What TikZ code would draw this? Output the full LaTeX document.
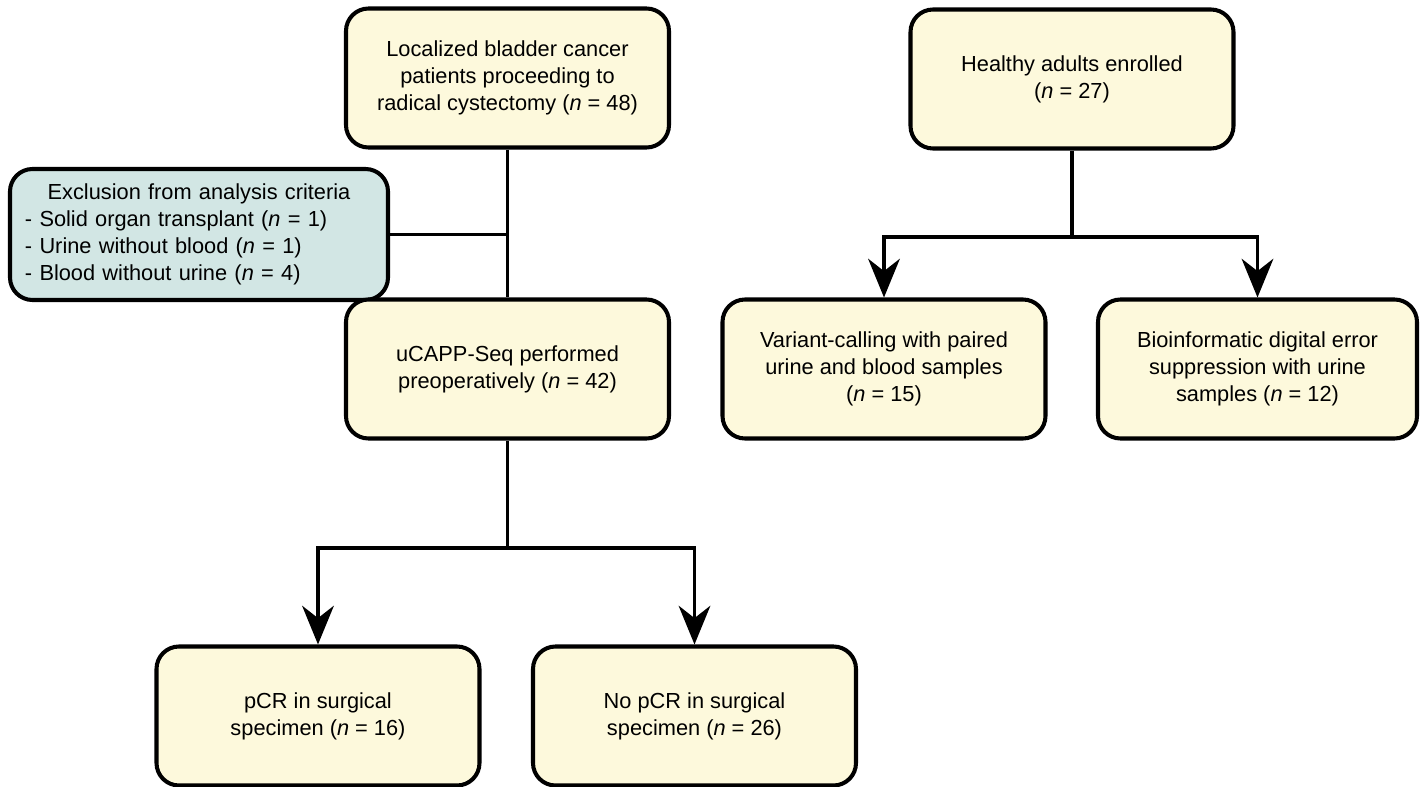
\documentclass[tikz,border=0pt]{standalone}
\usepackage{fontspec}
\setmainfont{Liberation Sans}
\usetikzlibrary{arrows.meta, positioning, calc}
\definecolor{boxcream}{RGB}{253, 249, 220}
\definecolor{boxteal}{RGB}{210, 230, 228}
\tikzset{
    % Study flow boxes
    flow box/.style={
        rectangle, rounded corners=0.45cm, draw=black, line width=2.3pt,
        fill=boxcream, minimum width=6.46cm, minimum height=2.78cm,
        align=center, font=\fontsize{12.4}{15.3}\selectfont
    },
    % Exclusion box
    excl box/.style={
        rectangle, rounded corners=0.45cm, draw=black, line width=2.3pt,
        fill=boxteal, minimum width=7.56cm, minimum height=2.62cm,
        text width=6.96cm, align=left, font=\fontsize{12.4}{15.3}\selectfont
    },
    % Connectors
    flow line/.style={
        line width=2.1pt, color=black
    },
    flow arrow/.style={
        -{Stealth[length=22pt, width=18pt, inset=7pt]}, line width=2.1pt, color=black
    }
}

\begin{document}
\begin{tikzpicture}

    \useasboundingbox (0, 0) rectangle (28.42, 15.72);

    % ======== PATIENT COHORT (LEFT) ========
    \node[flow box] (cohort) at (10.15, 14.16) {Localized bladder cancer\\patients proceeding to\\radical cystectomy (\textit{n} = 48)};

    % Exclusions
    \node[excl box] (excl) at (3.98, 11.03) {\makebox[\linewidth][c]{Exclusion from analysis criteria}\\- Solid organ transplant (\textit{n} = 1)\\- Urine without blood (\textit{n} = 1)\\- Blood without urine (\textit{n} = 4)};

    % uCAPP-Seq
    \node[flow box] (seq) at (10.15, 8.34) {uCAPP-Seq performed\\preoperatively (\textit{n} = 42)};

    % Outcomes
    \node[flow box] (pcr) at (6.36, 1.40) {pCR in surgical\\specimen (\textit{n} = 16)};
    \node[flow box] (nopcr) at (13.89, 1.40) {No pCR in surgical\\specimen (\textit{n} = 26)};

    \draw[flow line] (cohort.south) -- (seq.north);
    \draw[flow line] (excl.east) -- (excl.east -| cohort.south);

    \coordinate (seqsplit) at (10.15, 4.76);
    \draw[flow line] (seq.south) -- (seqsplit);
    \draw[flow arrow] (seqsplit) -| (pcr.north);
    \draw[flow arrow] (seqsplit) -| (nopcr.north);

    % ======== HEALTHY ADULTS (RIGHT) ========
    \node[flow box] (healthy) at (21.44, 14.14) {Healthy adults enrolled\\(\textit{n} = 27)};

    \node[flow box] (variant) at (17.68, 8.34) {Variant-calling with paired\\urine and blood samples\\(\textit{n} = 15)};
    \node[flow box, minimum width=6.38cm] (bioinf) at (25.15, 8.34) {Bioinformatic digital error\\suppression with urine\\samples (\textit{n} = 12)};

    \coordinate (hsplit) at (21.44, 10.98);
    \draw[flow line] (healthy.south) -- (hsplit);
    \draw[flow arrow] (hsplit) -| (variant.north);
    \draw[flow arrow] (hsplit) -| (bioinf.north);

\end{tikzpicture}
\end{document}
